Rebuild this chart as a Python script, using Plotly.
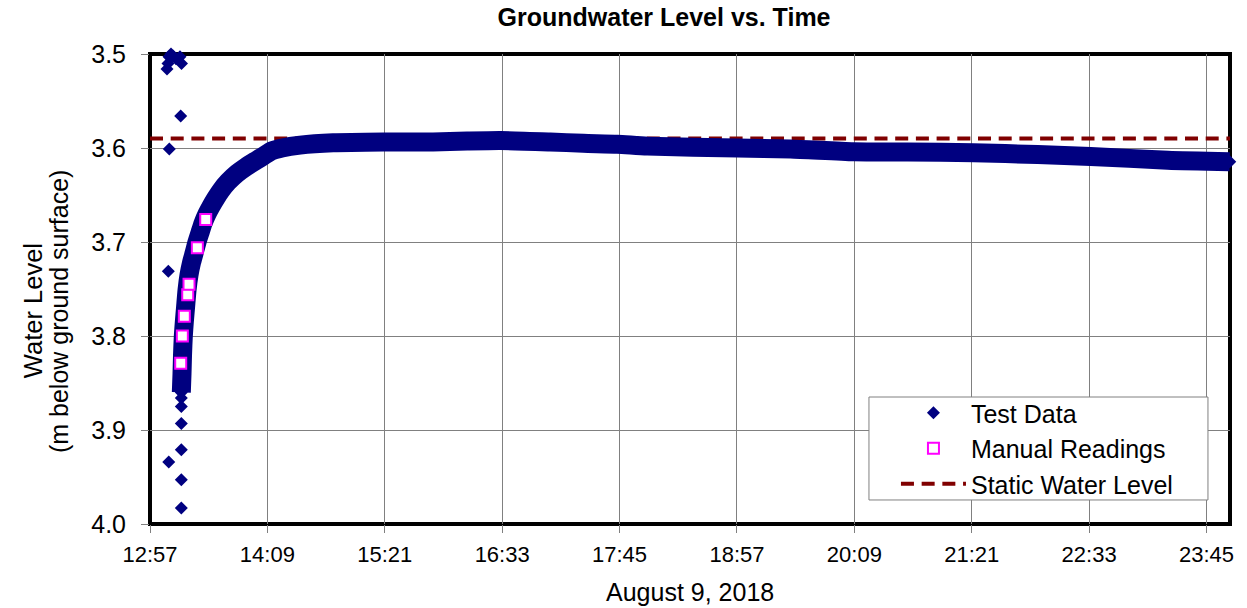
import plotly.graph_objects as go

DAY = "2018-08-09"
NEXT_DAY = "2018-08-10"

# ---- Test data: isolated logger readings around the pump shut-off ----
scatter_times = ["13:08:02", "13:08:39", "13:09:16", "13:10:29", "13:11:42", "13:13:32",
                 "13:16:00", "13:16:55", "13:16:26", "13:09:27", "13:08:51", "13:09:06",
                 "13:16:48", "13:16:48", "13:16:48", "13:16:48", "13:16:48", "13:16:48"]
scatter_levels = [3.516, 3.510, 3.503, 3.500, 3.502, 3.505,
                  3.503, 3.510, 3.566, 3.601, 3.731, 3.934,
                  3.983, 3.953, 3.921, 3.893, 3.875, 3.866]

# ---- Test data: continuous recovery record ----
record_times = ["13:16:49", "13:17:14", "13:17:33", "13:18:02", "13:18:39", "13:19:23",
                "13:20:19", "13:21:32", "13:23:04", "13:24:37", "13:26:27", "13:28:17",
                "13:30:08", "13:32:35", "13:35:02", "13:38:07", "13:41:11", "13:45:29",
                "13:51:00", "13:56:31", "14:02:03", "14:07:34", "14:12:29", "14:18:37",
                "14:29:40", "14:49:54", "15:20:35", "15:51:17", "16:12:10", "16:32:26",
                "17:03:07", "17:23:23", "17:44:16", "18:02:41", "18:58:00", "19:30:27",
                "20:09:08", "20:42:15", "21:22:41", "22:01:59", "22:34:34", "23:21:50",
                "23:59:50"]
record_levels = [3.860, 3.840, 3.820, 3.800, 3.785, 3.770,
                 3.751, 3.735, 3.722, 3.712, 3.700, 3.690,
                 3.680, 3.670, 3.662, 3.653, 3.645, 3.636,
                 3.627, 3.620, 3.614, 3.608, 3.603, 3.600,
                 3.597, 3.5945, 3.5936, 3.5936, 3.5926, 3.592,
                 3.5936, 3.595, 3.596, 3.598, 3.600, 3.601,
                 3.604, 3.6043, 3.605, 3.607, 3.609, 3.613,
                 3.6146]

# ---- Manual readings ----
manual_times = ["13:16:26", "13:17:26", "13:18:39", "13:20:44", "13:21:32", "13:26:38", "13:31:47"]
manual_levels = [3.829, 3.800, 3.779, 3.756, 3.745, 3.706, 3.676]

# ---- Static water level ----
static_level = 3.59

# ---- Axis settings ----
x_start = f"{DAY} 12:57:36"
x_end = f"{NEXT_DAY} 00:00:00"
y_ticks = [3.5, 3.6, 3.7, 3.8, 3.9, 4.0]
tick_step_minutes = 72

FONT = "Liberation Sans, Arial, sans-serif"
NAVY = "#000080"


def stamp(times):
    return [f"{DAY} {t}" for t in times]


fig = go.Figure()

fig.add_trace(go.Scatter(
    x=[x_start, x_end], y=[static_level, static_level],
    mode="lines", name="Static Water Level",
    line=dict(color="#800000", width=4, dash="13px,7.7px"),
    legendrank=3, hoverinfo="skip",
))

# dense band of logger readings
fig.add_trace(go.Scatter(
    x=stamp(record_times), y=record_levels, mode="lines",
    line=dict(color=NAVY, width=19, shape="spline", smoothing=0.6),
    showlegend=False, hoverinfo="skip",
))

fig.add_trace(go.Scatter(
    x=stamp(scatter_times + record_times), y=scatter_levels + record_levels,
    mode="markers", name="Test Data",
    marker=dict(symbol="diamond", size=10, color=NAVY),
    cliponaxis=False, legendrank=1,
))

fig.add_trace(go.Scatter(
    x=stamp(manual_times), y=manual_levels, mode="markers", name="Manual Readings",
    marker=dict(symbol="square", size=11, color="white",
                line=dict(color="#FF00FF", width=2)),
    cliponaxis=False, legendrank=2,
))

fig.update_layout(
    width=1247, height=608,
    margin=dict(l=150, r=17, t=54, b=84),
    paper_bgcolor="white", plot_bgcolor="white",
    font=dict(family=FONT, color="black"),
    title=dict(text="<b>Groundwater Level vs. Time</b>", x=0.5325, xref="container",
               y=0.972, yanchor="middle", xanchor="center",
               font=dict(size=25, family=FONT, color="black")),
    xaxis=dict(
        type="date", range=[x_start, x_end],
        tick0=x_start, dtick=tick_step_minutes * 60 * 1000, tickformat="%H:%M",
        showgrid=True, gridcolor="#808080", gridwidth=1,
        ticks="outside", ticklen=8, tickcolor="#808080", tickwidth=1,
        tickfont=dict(size=22, family=FONT), ticklabelstandoff=3,
        showline=False, zeroline=False,
    ),
    yaxis=dict(
        range=[4.0, 3.5], tickvals=y_ticks, tickformat=".1f",
        showgrid=True, gridcolor="#808080", gridwidth=1,
        ticks="outside", ticklen=8, tickcolor="#808080", tickwidth=1,
        tickfont=dict(size=25, family=FONT), ticklabelstandoff=10,
        showline=False, zeroline=False,
    ),
    legend=dict(
        x=0.6907, xanchor="left", y=0.2851, yanchor="top",
        bgcolor="rgba(0,0,0,0)", borderwidth=0,
        font=dict(size=25, family=FONT), itemwidth=65,
    ),
    shapes=[
        dict(type="rect", xref="paper", yref="paper", x0=0, x1=1, y0=0, y1=1,
             line=dict(color="black", width=4), layer="between"),
        dict(type="rect", xref="paper", yref="paper", x0=0.6657, x1=0.9796,
             y0=0.0511, y1=0.2702, fillcolor="white",
             line=dict(color="#808080", width=1), layer="above"),
    ],
    annotations=[
        dict(text="August 9, 2018", xref="paper", yref="paper", x=0.5, y=-0.1447,
             xanchor="center", yanchor="middle", showarrow=False,
             font=dict(size=25, family=FONT)),
        dict(text="Water Level", xref="paper", yref="paper", x=-0.1083, y=0.453,
             xanchor="center", yanchor="middle", showarrow=False, textangle=-90,
             font=dict(size=25.5, family=FONT)),
        dict(text="(m below ground surface)", xref="paper", yref="paper", x=-0.0843, y=0.453,
             xanchor="center", yanchor="middle", showarrow=False, textangle=-90,
             font=dict(size=25, family=FONT)),
    ],
)

fig.write_html("out.html")
